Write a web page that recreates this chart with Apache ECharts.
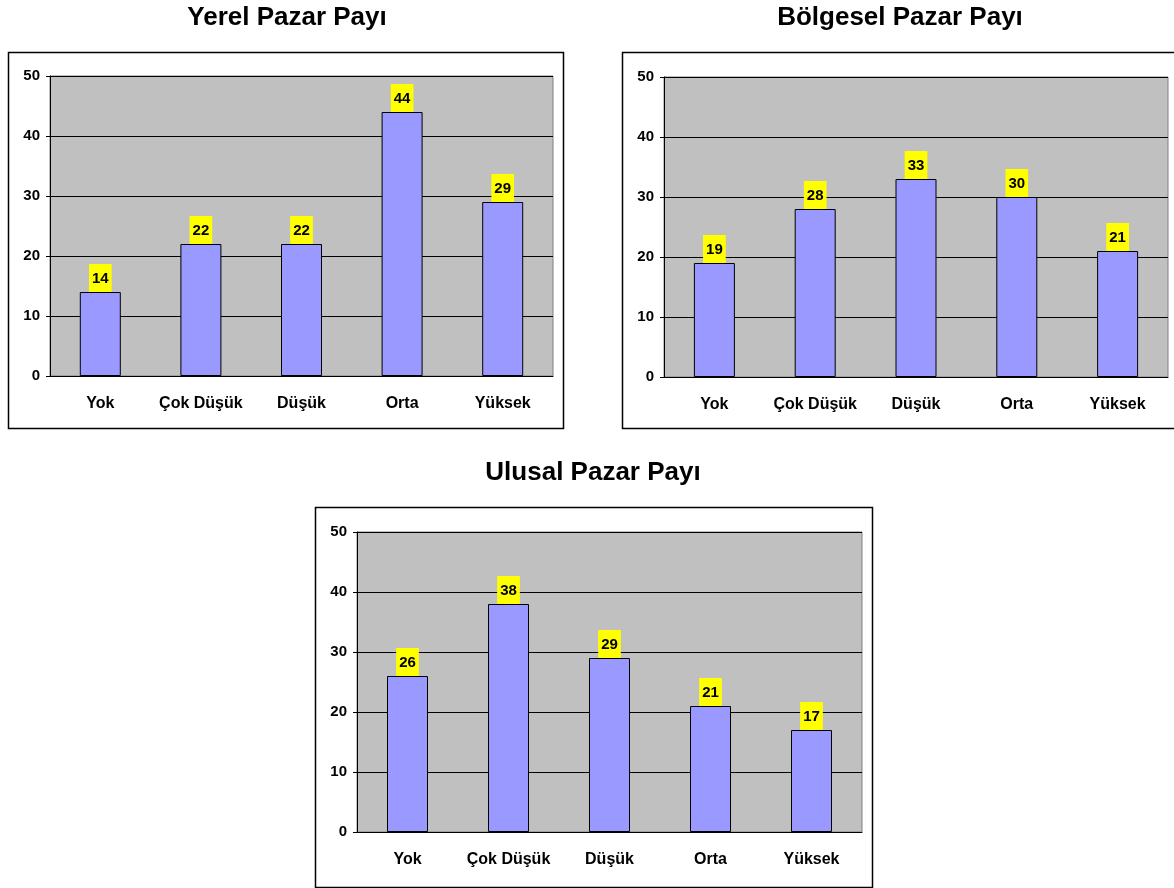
<!DOCTYPE html>
<html>
<head>
<meta charset="utf-8">
<script src="https://cdn.jsdelivr.net/npm/echarts@6/dist/echarts.min.js"></script>
<style>
  html, body { margin: 0; padding: 0; background: #fff; }
  #chart { width: 1174px; height: 888px; }
</style>
</head>
<body>
<div id="chart"></div>
<script>
// veriler
const categories = ['Yok', 'Çok Düşük', 'Düşük', 'Orta', 'Yüksek'];
const yerel = [14, 22, 22, 44, 29];
const bolgesel = [19, 28, 33, 30, 21];
const ulusal = [26, 38, 29, 21, 17];
const titles = ['Yerel Pazar Payı', 'Bölgesel Pazar Payı', 'Ulusal Pazar Payı'];
const yTicks = [0, 10, 20, 30, 40, 50];

const FONT = '"Liberation Sans", Arial, sans-serif';
const chart = echarts.init(document.getElementById('chart'));

// her grafik için yerleşim
const grids = [
  { left: 50, top: 76, width: 503, height: 300 },
  { left: 664, top: 77, width: 504, height: 300 },
  { left: 357, top: 532, width: 505, height: 300 }
];
const boxes = [
  { x: 8, y: 52, w: 555, h: 376 },
  { x: 622, y: 52, w: 560, h: 376 },
  { x: 315, y: 507, w: 557, h: 380 }
];
const titlePos = [[287, 18], [900, 18], [593, 473]];
const seriesData = [yerel, bolgesel, ulusal];

const option = {
  animation: false,
  textStyle: { fontFamily: FONT },
  grid: grids.map(g => Object.assign({
    show: true,
    backgroundColor: '#C0C0C0',
    borderColor: '#808080',
    borderWidth: 1,
    containLabel: false
  }, g)),
  xAxis: grids.map((g, i) => ({
    type: 'category',
    gridIndex: i,
    data: categories,
    axisLine: { lineStyle: { color: '#000', width: 1 } },
    axisTick: { length: 4, lineStyle: { color: '#000' } },
    axisLabel: { interval: 0, color: '#000', fontWeight: 'bold', fontSize: 16, margin: 20, fontFamily: FONT }
  })),
  yAxis: grids.map((g, i) => ({
    type: 'value',
    gridIndex: i,
    min: yTicks[0],
    max: yTicks[yTicks.length - 1],
    interval: 10,
    axisLine: { show: true, lineStyle: { color: '#000', width: 1 } },
    axisTick: { show: true, length: 4, lineStyle: { color: '#000' } },
    axisLabel: { color: '#000', fontWeight: 'bold', fontSize: 15, margin: 10, fontFamily: FONT },
    splitLine: { show: true, lineStyle: { color: '#000', width: 1 } }
  })),
  series: seriesData.map((d, i) => ({
    type: 'bar',
    xAxisIndex: i,
    yAxisIndex: i,
    data: d,
    barWidth: 41,
    itemStyle: { color: '#9999FF', borderColor: '#000', borderWidth: 1 },
    label: {
      show: true,
      position: 'top',
      distance: 0,
      color: '#000',
      fontWeight: 'bold',
      fontSize: 15,
      fontFamily: FONT,
      lineHeight: 17,
      backgroundColor: '#FFFF00',
      padding: [6, 3, 5, 3]
    }
  })),
  graphic: [
    ...boxes.map(b => ({
      type: 'rect',
      silent: true,
      z: -10,
      shape: { x: b.x + 0.5, y: b.y + 0.5, width: b.w, height: b.h },
      style: { fill: 'none', stroke: '#000', lineWidth: 1.5 }
    })),
    ...titles.map((t, i) => ({
      type: 'text',
      silent: true,
      x: titlePos[i][0],
      y: titlePos[i][1],
      style: {
        text: t,
        fill: '#000',
        font: 'bold 26px ' + FONT,
        textAlign: 'center',
        textVerticalAlign: 'middle'
      }
    }))
  ]
};

chart.setOption(option);
window.addEventListener('resize', function() {
  chart.resize();
});
</script>
</body>
</html>
